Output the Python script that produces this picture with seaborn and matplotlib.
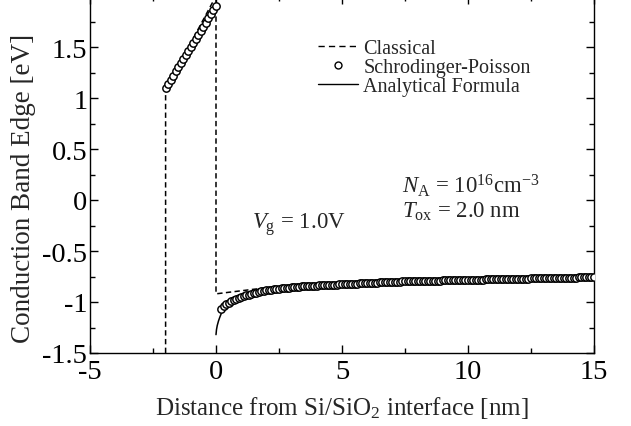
import numpy as np
import pandas as pd
import matplotlib
matplotlib.use("Agg")
import matplotlib.pyplot as plt
from matplotlib.lines import Line2D
from matplotlib.ticker import MultipleLocator, FuncFormatter
import seaborn as sns

# ---------------- data ----------------
# Classical (dashed)
classical_x = [-2.0, -2.0, 0.0, 0.0, 0.5, 1.0, 1.5, 2.0, 3.0, 5.0, 7.5, 10.0, 12.5, 15.0]
classical_y = [-1.5, 1.08, 2.0, -0.92, -0.905, -0.89, -0.875, -0.862, -0.85, -0.826, -0.80, -0.783, -0.768, -0.756]

# Schrodinger-Poisson (circles): oxide part
sp_ox_x = [-2.0, -1.9, -1.8, -1.7, -1.6, -1.5, -1.4, -1.3, -1.2, -1.1, -1.0,
           -0.9, -0.8, -0.7, -0.6, -0.5, -0.4, -0.3, -0.2, -0.1, 0.0]
sp_ox_y = [1.10, 1.14, 1.18, 1.22, 1.26, 1.30, 1.34, 1.38, 1.42, 1.46, 1.50,
           1.54, 1.58, 1.62, 1.66, 1.70, 1.74, 1.78, 1.82, 1.86, 1.90]

# Schrodinger-Poisson (circles): silicon part, simulation mesh 0.2 .. 15.0 nm
sp_si_x = np.round(np.arange(0.2, 15.05, 0.1), 1)
sp_si_y = [
    -1.065, -1.042, -1.022, -1.005, -0.990, -0.978, -0.967, -0.958, -0.950,
    -0.942, -0.934, -0.927, -0.920, -0.914, -0.908, -0.902, -0.896, -0.891, -0.886,
    -0.882, -0.878, -0.874, -0.871, -0.868, -0.865, -0.863, -0.860, -0.858, -0.856,
    -0.854, -0.852, -0.850, -0.848, -0.847, -0.845, -0.843, -0.842, -0.840, -0.839,
    -0.838, -0.837, -0.836, -0.835, -0.834, -0.832, -0.831, -0.829, -0.828, -0.826,
    -0.825, -0.824, -0.822, -0.821, -0.820, -0.819, -0.817, -0.816, -0.815, -0.813,
    -0.812, -0.811, -0.810, -0.809, -0.808, -0.807, -0.806, -0.805, -0.804, -0.803,
    -0.802, -0.801, -0.800, -0.799, -0.799, -0.798, -0.797, -0.796, -0.796, -0.795,
    -0.794, -0.794, -0.793, -0.793, -0.792, -0.791, -0.791, -0.790, -0.790, -0.789,
    -0.788, -0.788, -0.787, -0.787, -0.786, -0.786, -0.785, -0.784, -0.784, -0.783,
    -0.782, -0.782, -0.781, -0.781, -0.780, -0.780, -0.779, -0.779, -0.778, -0.778,
    -0.777, -0.776, -0.776, -0.775, -0.775, -0.774, -0.774, -0.773, -0.772, -0.772,
    -0.771, -0.771, -0.770, -0.770, -0.769, -0.768, -0.768, -0.767, -0.767, -0.766,
    -0.766, -0.765, -0.765, -0.764, -0.764, -0.763, -0.763, -0.762, -0.762, -0.761,
    -0.761, -0.760, -0.760, -0.759, -0.759, -0.758, -0.758, -0.757, -0.757, -0.756,
]

# Analytical formula (solid)
ana_x = [0.0, 0.02, 0.05, 0.1, 0.15, 0.23, 0.3, 0.4, 0.5, 0.7, 1.0, 1.5, 2.0, 3.0, 4.0,
         5.0, 7.0, 10.0, 12.5, 15.0]
ana_y = [-1.32, -1.27, -1.23, -1.185, -1.15, -1.10, -1.07, -1.04, -1.02, -0.99,
         -0.955, -0.917, -0.888, -0.857, -0.84, -0.826, -0.803, -0.783, -0.768, -0.756]

legend_labels = ["Classical", "Schrodinger-Poisson", "Analytical Formula"]

# ---------------- style ----------------
sns.set_style("ticks")
plt.rcParams["font.family"] = ["Liberation Serif", "DejaVu Serif"]
plt.rcParams["mathtext.fontset"] = "custom"
plt.rcParams["mathtext.rm"] = "Liberation Serif"
plt.rcParams["mathtext.it"] = "Liberation Serif:italic"
plt.rcParams["axes.unicode_minus"] = False

W, H = 631, 427
L, R, B, T = 90, 594, 354, -3
fig = plt.figure(figsize=(W / 100, H / 100), dpi=100)
ax = fig.add_axes([L / W, (H - B) / H, (R - L) / W, (B - T) / H])

df_cl = pd.DataFrame({"x": classical_x, "y": classical_y})
df_ana = pd.DataFrame({"x": ana_x, "y": ana_y})
df_sp = pd.DataFrame({"x": list(sp_ox_x) + list(sp_si_x), "y": list(sp_ox_y) + list(sp_si_y)})

dash = (0, (3.5, 2.2))
sns.lineplot(data=df_cl, x="x", y="y", sort=False, estimator=None, ax=ax,
             color="black", linewidth=1.1, linestyle=dash)
sns.lineplot(data=df_ana, x="x", y="y", sort=False, estimator=None, ax=ax,
             color="black", linewidth=1.1)
sns.scatterplot(data=df_sp, x="x", y="y", ax=ax, marker="o", s=28,
                facecolor="white", edgecolor="black", linewidth=1.05, zorder=3)

ax.set_xlim(-5, 15)
ax.xaxis.set_major_locator(MultipleLocator(5))
ax.xaxis.set_minor_locator(MultipleLocator(2.5))
ax.yaxis.set_major_locator(MultipleLocator(0.5))
ax.yaxis.set_minor_locator(MultipleLocator(0.25))
fmt = FuncFormatter(lambda v, p: "%g" % round(v, 2))
ax.xaxis.set_major_formatter(fmt)
ax.yaxis.set_major_formatter(fmt)
ax.set_yticks([-1.5, -1, -0.5, 0, 0.5, 1, 1.5])
ax.set_ylim(-1.5, 2.0)
ax.tick_params(which="both", direction="in", top=True, right=True, width=1.0, colors="black")
ax.tick_params(which="major", length=6, labelsize=20.5)
ax.tick_params(axis="x", which="major", pad=4.5)
ax.tick_params(axis="y", which="major", pad=2)
ax.tick_params(which="minor", length=3.5)
for s in ax.spines.values():
    s.set_linewidth(1.0)
    s.set_color("black")
ax.spines["top"].set_visible(False)

ax.set_xlabel("Distance from Si/SiO$_2$ interface [nm]", fontsize=18)
ax.xaxis.set_label_coords(0.5, -(395 - B) / (B - T), transform=ax.transAxes)
ax.set_ylabel("Conduction Band Edge [eV]", fontsize=19.5)
ax.yaxis.set_label_coords(-(L - 36) / (R - L), 1 - (188 - T) / (B - T), transform=ax.transAxes)

handles = [
    Line2D([], [], color="black", linestyle=(0, (4.5, 3)), linewidth=1.0),
    Line2D([], [], color="black", linestyle="none", marker="o", markersize=5,
           markerfacecolor="white", markeredgewidth=1.0),
    Line2D([], [], color="black", linewidth=1.0),
]
ax.legend(handles, legend_labels, frameon=False, fontsize=14.5,
          loc="upper left", bbox_to_anchor=((318 - L) / (R - L), 1 - (40 - T) / (B - T)),
          handlelength=2.0, handletextpad=0.25, labelspacing=0.0, borderaxespad=0,
          borderpad=0)

ax.text(1.43, -0.235, "$V_\\mathrm{g}$ = 1.0V", fontsize=16.5, ha="left", va="center")
ax.text(7.38, 0.15, "$N_\\mathrm{A}$ = 10$^{16}$cm$^{-3}$", fontsize=16.5, ha="left", va="center")
ax.text(7.38, -0.105, "$T_\\mathrm{ox}$ = 2.0 nm", fontsize=16.5, ha="left", va="center")

fig.savefig("out.png", dpi=100)
